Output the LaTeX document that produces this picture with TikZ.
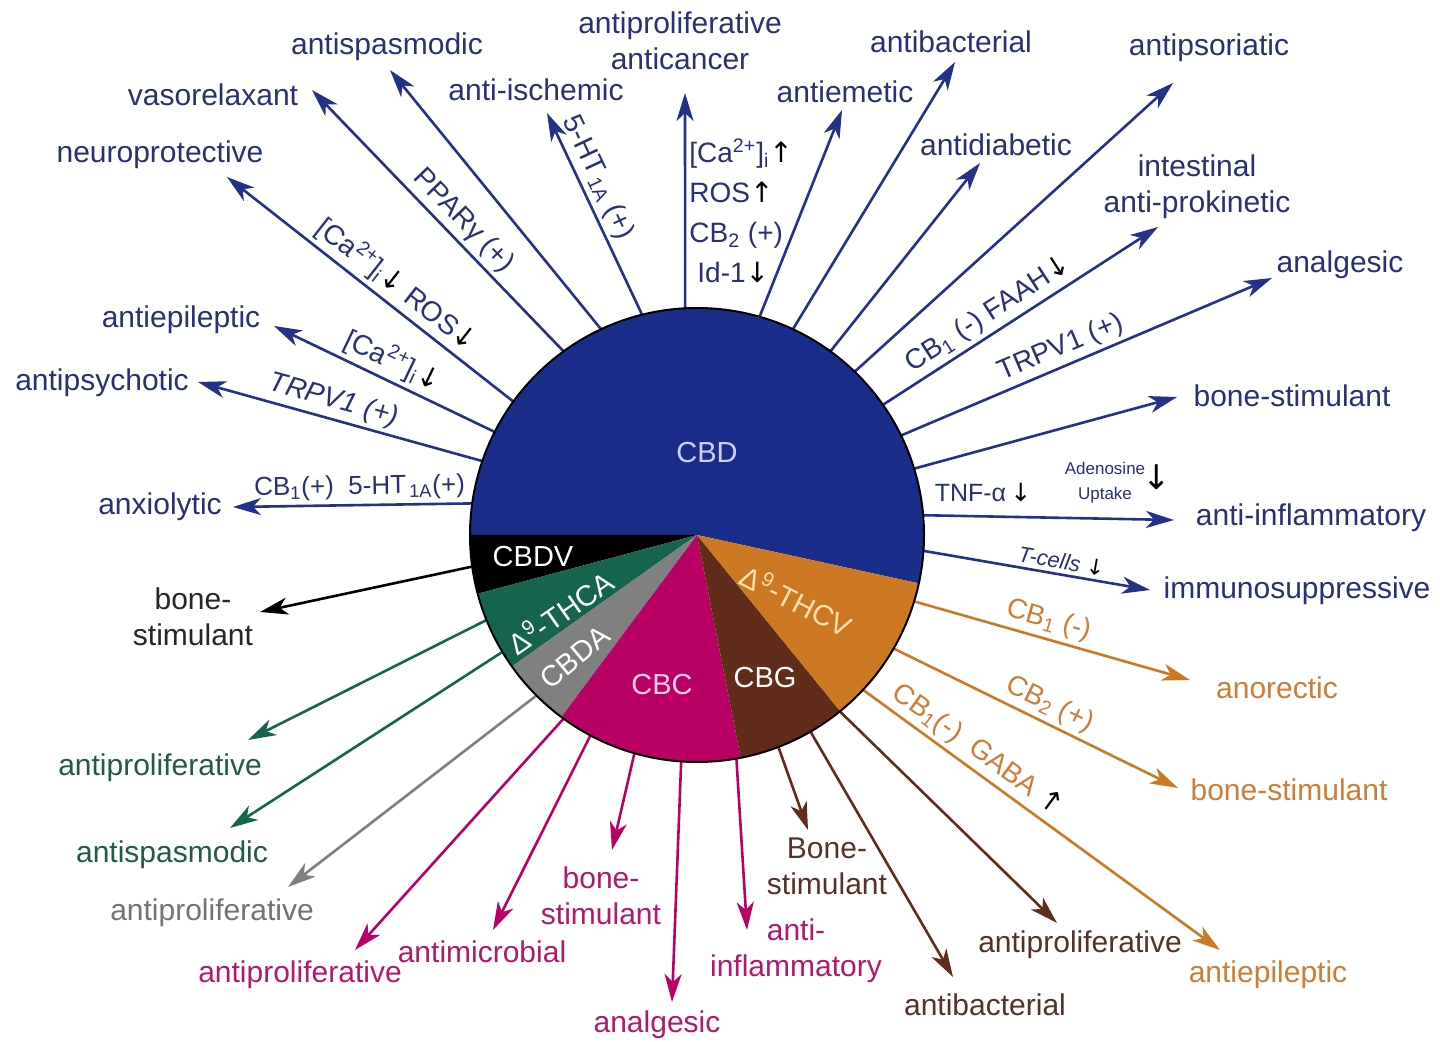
\documentclass[tikz,border=0pt]{standalone}
\usepackage{fontspec}
\setmainfont{Liberation Sans}
\newfontfamily\arrfont{DejaVu Sans}
\usetikzlibrary{arrows.meta}
\definecolor{cbdblue}{RGB}{27,45,138}
\definecolor{arrblue}{RGB}{35,50,135}
\definecolor{bluetxt}{RGB}{40,50,115}
\definecolor{thcagreen}{RGB}{22,100,78}
\definecolor{greentxt}{RGB}{35,90,70}
\definecolor{cbdagray}{RGB}{128,128,128}
\definecolor{graytxt}{RGB}{115,115,115}
\definecolor{cbcmag}{RGB}{185,0,100}
\definecolor{magtxt}{RGB}{175,25,110}
\definecolor{cbgbrown}{RGB}{95,45,25}
\definecolor{browntxt}{RGB}{85,50,40}
\definecolor{thcvorange}{RGB}{205,120,35}
\definecolor{orangetxt}{RGB}{205,125,55}
\definecolor{cbdtxt}{RGB}{205,210,245}
\definecolor{cbctxt}{RGB}{250,205,230}
\definecolor{thcvtxt}{RGB}{250,225,175}
\newcommand{\mydn}{{\arrfont\textcolor{black}{↓}}}
\newcommand{\myup}{{\arrfont\textcolor{black}{↑}}}
\begin{document}
\begin{tikzpicture}[x=0.5pt,y=0.5pt,
 lab/.style={font=\fontsize{15}{18}\selectfont, inner sep=0pt, align=center},
 onl/.style={font=\fontsize{14}{16}\selectfont, inner sep=2pt, sloped, above},
 arr/.style={line width=1.3pt, -{Stealth[length=14pt,width=8.5pt,inset=4pt]}},
 barr/.style={arr, draw=arrblue},
 pielab/.style={font=\fontsize{14.5}{16}\selectfont, inner sep=0pt, text=white}]
\useasboundingbox (0,0) rectangle (1440,-1042);
\fill[white] (0,0) rectangle (1440,-1042);
% pie node (geometry only)
\node[circle, minimum size=227pt, inner sep=0pt, outer sep=0pt] (pie) at (697,-535) {};
% tip coordinates
\coordinate (t1) at (233,-507);
\coordinate (t2) at (198,-382);
\coordinate (t3) at (274,-326);
\coordinate (t4) at (227,-177);
\coordinate (t5) at (312,-90);
\coordinate (t6) at (390,-70);
\coordinate (t7) at (547,-113);
\coordinate (t8) at (685,-93);
\coordinate (t9) at (842,-110);
\coordinate (t10) at (955,-62);
\coordinate (t11) at (980,-163);
\coordinate (t12) at (1173,-83);
\coordinate (t13) at (1158,-227);
\coordinate (t14) at (1272,-278);
\coordinate (t15) at (1177,-397);
\coordinate (t16) at (1174,-520);
\coordinate (t17) at (1150,-590);
\coordinate (k1) at (260,-612);
\coordinate (g1) at (248,-740);
\coordinate (g2) at (230,-828);
\coordinate (y1) at (288,-887);
\coordinate (m1) at (355,-950);
\coordinate (m2) at (493,-930);
\coordinate (m3) at (612,-850);
\coordinate (m4) at (672,-1002);
\coordinate (m5) at (747,-930);
\coordinate (b1) at (808,-830);
\coordinate (b2) at (953,-977);
\coordinate (b3) at (1057,-923);
\coordinate (o1) at (1190,-680);
\coordinate (o2) at (1178,-788);
\coordinate (o3) at (1220,-950);
% blue arrows (CBD)
\begin{scope}[every node/.append style={text=bluetxt}]
\draw[barr] (pie.172) -- node[onl, pos=0.47, font=\fontsize{13}{15}\selectfont] (e1) {CB\textsubscript{1}(+)\ \ 5-HT\textsubscript{\,1A}(+)} (t1);
\draw[barr] (pie.161) -- node[onl, pos=0.54, font=\fontsize{14}{16}\itshape] (e2) {TRPV1 (+)} (t2);
\draw[barr] (pie.153) -- node[onl, pos=0.5] (e3) {[Ca\textsuperscript{2+}]\textsubscript{i}\mydn} (t3);
\draw[barr] (pie.144) -- node[onl, pos=0.45] (e4) {[Ca\textsuperscript{2+}]\textsubscript{i}\mydn\ ROS\mydn} (t4);
\draw[barr] (pie.126) -- node[onl, pos=0.45] (e5) {PPARγ (+)} (t5);
\draw[barr] (pie.115) -- (t6);
\draw[barr] (pie.104) -- node[onl, pos=0.64] (e7) {5-HT\textsubscript{\,1A} (+)} (t7);
\draw[barr] (pie.93) -- (t8);
\draw[barr] (pie.74) -- (t9);
\draw[barr] (pie.65) -- (t10);
\draw[barr] (pie.54) -- (t11);
\draw[barr] (pie.46) -- (t12);
\draw[barr] (pie.35) -- node[onl, pos=0.42] (e13) {CB\textsubscript{1} (-) FAAH\mydn} (t13);
\draw[barr] (pie.26) -- node[onl, pos=0.45] (e14) {TRPV1 (+)} (t14);
\draw[barr] (pie.17) -- (t15);
\draw[barr] (pie.5) -- (t16);
\draw[barr] (pie.356) -- node[onl, pos=0.6, font=\fontsize{11}{13}\itshape] (e17) {T-cells \mydn} (t17);
\end{scope}
\node[font=\fontsize{12.5}{14}\selectfont, text=bluetxt] (tnf) at (983,-493) {TNF-α\,\mydn};
\node[font=\fontsize{8.5}{12.5}\selectfont, text=bluetxt, align=center] (aden) at (1105,-483) {Adenosine\\Uptake};
\node[font=\fontsize{17}{17}\selectfont] (adarr) at (1157,-477) {\mydn};
\node[font=\fontsize{14}{20}\selectfont, text=bluetxt, align=left, anchor=west, inner sep=0pt] (stack) at (689,-211)
 {[Ca\textsuperscript{2+}]\textsubscript{i}\myup\\ROS\myup\\CB\textsubscript{2} (+)\\\hspace{4pt}Id-1\mydn};
% black (CBDV)
\draw[arr, draw=black] (pie.188) -- (k1);
% green (THCA)
\draw[arr, draw=thcagreen] (pie.202) -- (g1);
\draw[arr, draw=thcagreen] (pie.211) -- (g2);
% gray (CBDA)
\draw[arr, draw=cbdagray] (pie.225) -- (y1);
% magenta (CBC)
\draw[arr, draw=cbcmag] (pie.234) -- (m1);
\draw[arr, draw=cbcmag] (pie.242) -- (m2);
\draw[arr, draw=cbcmag] (pie.254) -- (m3);
\draw[arr, draw=cbcmag] (pie.266) -- (m4);
\draw[arr, draw=cbcmag] (pie.280) -- (m5);
% brown (CBG)
\draw[arr, draw=cbgbrown] (pie.291) -- (b1);
\draw[arr, draw=cbgbrown] (pie.300) -- (b2);
\draw[arr, draw=cbgbrown] (pie.309) -- (b3);
% orange (THCV)
\begin{scope}[every node/.append style={text=orangetxt}]
\draw[arr, draw=thcvorange] (pie.343) -- node[onl, pos=0.47] (eo1) {CB\textsubscript{1} (-)} (o1);
\draw[arr, draw=thcvorange] (pie.330) -- node[onl, pos=0.52] (eo2) {CB\textsubscript{2} (+)} (o2);
\draw[arr, draw=thcvorange] (pie.317) -- node[onl, pos=0.29] (eo3) {CB\textsubscript{1}(-)\ \ GABA\ \myup} (o3);
\end{scope}
% pie wedges
\fill[cbdblue] (pie.center) -- ++(-12.3:227) arc[start angle=-12.3, end angle=180, radius=227] -- cycle;
\fill[black] (pie.center) -- ++(180:227) arc[start angle=180, end angle=195, radius=227] -- cycle;
\fill[thcagreen] (pie.center) -- ++(195:227) arc[start angle=195, end angle=215.4, radius=227] -- cycle;
\fill[cbdagray] (pie.center) -- ++(215.4:227) arc[start angle=215.4, end angle=233.3, radius=227] -- cycle;
\fill[cbcmag] (pie.center) -- ++(233.3:227) arc[start angle=233.3, end angle=281.1, radius=227] -- cycle;
\fill[cbgbrown] (pie.center) -- ++(281.1:227) arc[start angle=281.1, end angle=309.1, radius=227] -- cycle;
\fill[thcvorange] (pie.center) -- ++(309.1:227) arc[start angle=309.1, end angle=347.7, radius=227] -- cycle;
\draw[line width=1pt] (pie.center) circle[radius=227];
% pie labels
\node[pielab, text=cbdtxt] (lcbd) at (707,-453) {CBD};
\node[pielab] (lcbdv) at (533,-557) {CBDV};
\node[pielab, rotate=35] (lthca) at (560,-612) {Δ\textsuperscript{9}-THCA};
\node[pielab, rotate=40] (lcbda) at (575,-657) {CBDA};
\node[pielab, text=cbctxt] (lcbc) at (662,-685) {CBC};
\node[pielab] (lcbg) at (765,-678) {CBG};
\node[pielab, text=thcvtxt, rotate=-27] (lthcv) at (797,-600) {Δ\textsuperscript{9}-THCV};
% blue labels
\begin{scope}[every node/.append style={lab, text=bluetxt}]
\node (l1) at (160,-507) {anxiolytic};
\node (l2) at (102,-383) {antipsychotic};
\node (l3) at (181,-320) {antiepileptic};
\node (l4) at (160,-155) {neuroprotective};
\node (l5) at (213,-95) {vasorelaxant};
\node (l6) at (387,-47) {antispasmodic};
\node (l7) at (536,-90) {anti-ischemic};
\node (l8) at (680,-41) {antiproliferative\\anticancer};
\node (l9) at (845,-92) {antiemetic};
\node (l10) at (951,-42) {antibacterial};
\node (l11) at (996,-145) {antidiabetic};
\node (l12) at (1209,-48) {antipsoriatic};
\node (l13) at (1197,-187) {intestinal\\anti-prokinetic};
\node (l14) at (1340,-265) {analgesic};
\node (l15) at (1292,-396) {bone-stimulant};
\node (l16) at (1311,-518) {anti-inflammatory};
\node (l17) at (1297,-591) {immunosuppressive};
\end{scope}
\node[lab, text=black!85] (k1l) at (193,-617) {bone-\\stimulant};
\node[lab, text=greentxt] (g1l) at (160,-768) {antiproliferative};
\node[lab, text=greentxt] (g2l) at (172,-855) {antispasmodic};
\node[lab, text=graytxt] (y1l) at (212,-913) {antiproliferative};
\node[lab, text=magtxt] (m1l) at (300,-975) {antiproliferative};
\node[lab, text=magtxt] (m2l) at (482,-952) {antimicrobial};
\node[lab, text=magtxt] (m3l) at (601,-896) {bone-\\stimulant};
\node[lab, text=magtxt] (m4l) at (657,-1025) {analgesic};
\node[lab, text=magtxt] (m5l) at (796,-951) {anti-\\inflammatory};
\node[lab, text=browntxt] (b1l) at (827,-866) {Bone-\\stimulant};
\node[lab, text=browntxt] (b2l) at (985,-1005) {antibacterial};
\node[lab, text=browntxt] (b3l) at (1080,-945) {antiproliferative};
\node[lab, text=orangetxt] (o1l) at (1277,-688) {anorectic};
\node[lab, text=orangetxt] (o2l) at (1289,-790) {bone-stimulant};
\node[lab, text=orangetxt] (o3l) at (1268,-975) {antiepileptic};
\end{tikzpicture}
\end{document}
